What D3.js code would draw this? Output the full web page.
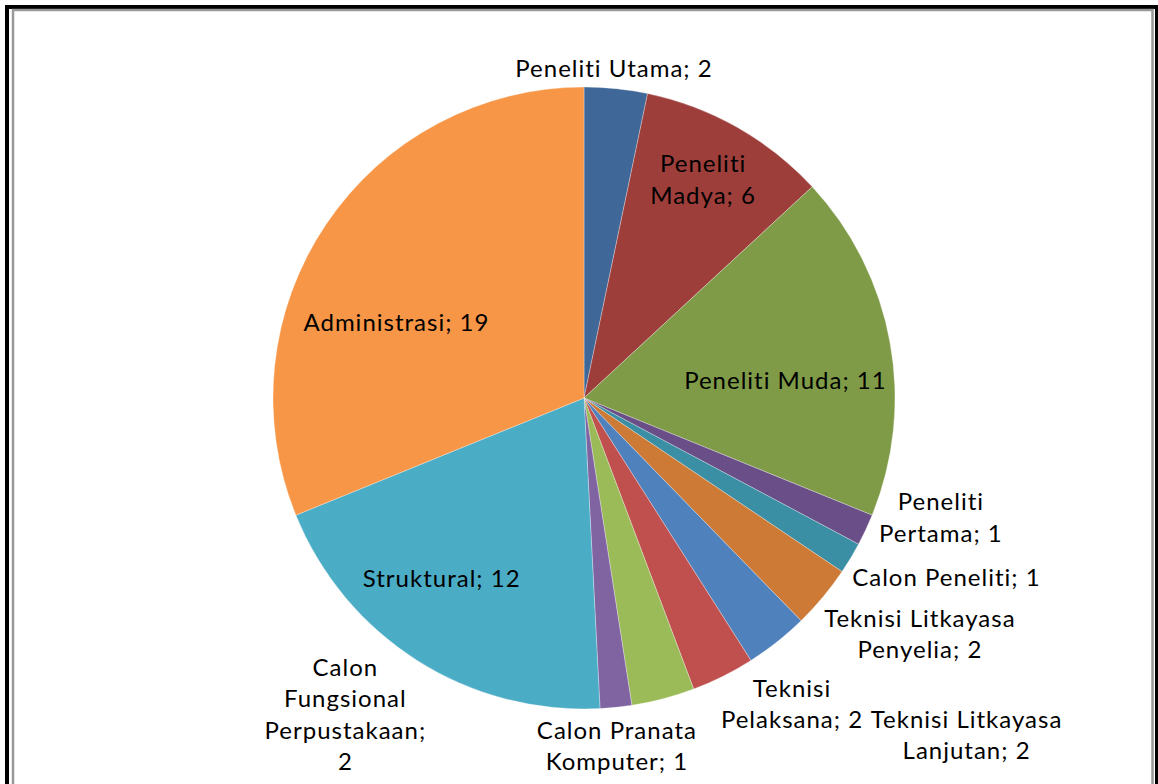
<!DOCTYPE html>
<html>
<head>
<meta charset="utf-8">
<script src="https://cdn.jsdelivr.net/npm/d3@7"></script>
<style>
  body { margin: 0; background: #fff; }
  svg { display: block; }
  text { font-family: Lato, "Open Sans", sans-serif; fill: #000; font-variant-ligatures: none; }
</style>
</head>
<body>
<div id="chart"></div>
<script>
// Data values of the pie (clockwise from 12 o'clock)
const categories = ['Peneliti Utama', 'Peneliti Madya', 'Peneliti Muda', 'Peneliti Pertama',
  'Calon Peneliti', 'Teknisi Litkayasa Penyelia', 'Teknisi Litkayasa Lanjutan', 'Teknisi Pelaksana',
  'Calon Fungsional Perpustakaan', 'Calon Pranata Komputer', 'Struktural', 'Administrasi'];
const values = [2, 6, 11, 1, 1, 2, 2, 2, 2, 1, 12, 19];
const colors = ['#3f6797', '#9d3e3b', '#7f9b48', '#694e87', '#3a8fa4', '#cc7a36',
  '#4f81bd', '#c0504d', '#9bbb59', '#8064a2', '#4bacc6', '#f79646'];

// Label lines as wrapped in the chart
const labelLines = [
  ['Peneliti Utama; 2'], ['Peneliti', 'Madya; 6'], ['Peneliti Muda; 11'], ['Peneliti', 'Pertama; 1'],
  ['Calon Peneliti; 1'], ['Teknisi Litkayasa', 'Penyelia; 2'], ['Teknisi Litkayasa', 'Lanjutan; 2'],
  ['Teknisi', 'Pelaksana; 2'], ['Calon', 'Fungsional', 'Perpustakaan;', '2'],
  ['Calon Pranata', 'Komputer; 1'], ['Struktural; 12'], ['Administrasi; 19']];
// label placement: polar angle (deg) and distance as fraction of radius
const labelAngle = [5.2, 28.6, 85.2, 108.5, 116.3, 125.1, 131.4, 145.8, 217, 174.6, 218.2, 291.9];
const labelDist = [1.065, 0.80, 0.65, 1.21, 1.30, 1.32, 1.64, 1.19, 1.275, 1.125, 0.74, 0.65];

const W = 1158, H = 784;
const cx = 584, cy = 398, R = 311;

const svg = d3.select('#chart').append('svg')
  .attr('width', W).attr('height', H);

// frame (black outer, grey inner)
svg.append('rect').attr('x', 7).attr('y', 7).attr('width', 1150).attr('height', 800)
  .attr('fill', 'none').attr('stroke', '#000').attr('stroke-width', 4);
svg.append('rect').attr('x', 13).attr('y', 10).attr('width', 1139.5).attr('height', 800)
  .attr('fill', 'none').attr('stroke', '#999').attr('stroke-width', 2.5);

const pie = d3.pie().sort(null).value(d => d);
const arcs = pie(values);
const arc = d3.arc().innerRadius(0).outerRadius(R);

const g = svg.append('g').attr('transform', `translate(${cx},${cy})`);

g.selectAll('path.slice')
  .data(arcs)
  .join('path')
  .attr('class', 'slice')
  .attr('d', arc)
  .attr('fill', (d, i) => colors[i])
  .attr('stroke', 'rgba(255,255,255,0.5)')
  .attr('stroke-width', 0.6);

const fontSize = 24, lineH = 31.5;
const lbl = g.selectAll('text.lbl')
  .data(arcs)
  .join('text')
  .attr('class', 'lbl')
  .attr('text-anchor', 'middle')
  .style('font-size', fontSize + 'px')
  .style('letter-spacing', '1px')
  .attr('transform', (d, i) => {
    const a = labelAngle[i] * Math.PI / 180;
    const r = R * labelDist[i];
    return `translate(${r * Math.sin(a)},${-r * Math.cos(a)})`;
  });

lbl.each(function (d, i) {
  const lines = labelLines[i];
  const n = lines.length;
  d3.select(this).selectAll('tspan')
    .data(lines)
    .join('tspan')
    .attr('x', 0)
    .attr('y', (l, j) => (j - (n - 1) / 2) * lineH)
    .attr('dy', '0.35em')
    .text(l => l);
});
</script>
</body>
</html>
